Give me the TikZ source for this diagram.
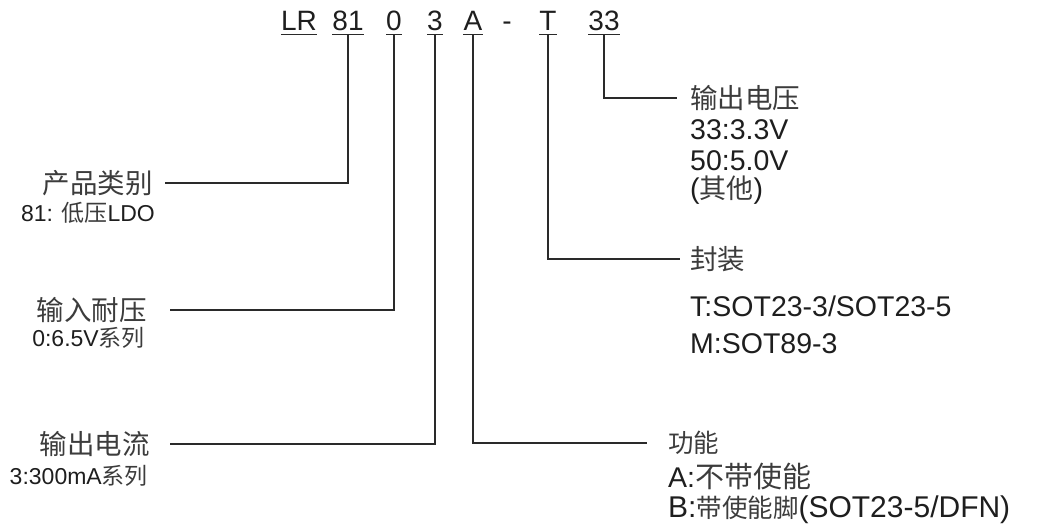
\documentclass[tikz,border=0pt]{standalone}
\usepackage{fontspec}
\setmainfont{Liberation Sans}
\newfontfamily\cjk{Noto Sans CJK SC}
\definecolor{ink}{HTML}{1E1E1E}
\definecolor{zhink}{HTML}{3C3C3C}
\definecolor{wirec}{HTML}{2A2A2A}
\newcommand\zh[1]{{\cjk\color{zhink}#1}}
\newcommand\zhs[2]{{\cjk\color{zhink}\fontsize{#1}{#1}\selectfont #2}}
\begin{document}
\begin{tikzpicture}[x=1pt,y=-1pt,
  seg/.style={inner sep=0pt,anchor=base,text=ink,font=\fontsize{28}{30}\selectfont},
  mainlab/.style={inner sep=0pt,text=ink,font=\fontsize{27.5}{30}\selectfont},
  sublab/.style={inner sep=0pt,anchor=base east,text=ink,font=\fontsize{23}{26}\selectfont},
  rlab/.style={inner sep=0pt,anchor=base west,text=ink,font=\fontsize{28.5}{30}\selectfont},
  uline/.style={draw=wirec,line width=1.4pt},
  wire/.style={draw=wirec,line width=1.3pt}]
\useasboundingbox (0,0) rectangle (1038,527);

% title segments
\node[seg] (tLR) at (299,31) {LR};
\node[seg] (t81) at (348,31) {81};
\node[seg] (t0)  at (394,31) {0};
\node[seg] (t3)  at (435,31) {3};
\node[seg] (tA)  at (473,31) {A};
\node[seg] (tD)  at (507,31) {-};
\node[seg] (tT)  at (548,31) {T};
\node[seg] (t33) at (604,31) {33};
\foreach \n in {tLR,t81,t0,t3,tA,tT,t33}
  \draw[uline] ([yshift=-3.5pt]\n.base west) -- ([yshift=-3.5pt]\n.base east);

% left labels
\node[mainlab,anchor=east] (cat) at (153,183) {\zh{产品类别}};
\node[sublab] (catv) at (155,221) {81: \zh{低压}LDO};
\node[mainlab,anchor=east] (vin) at (147,310) {\zh{输入耐压}};
\node[sublab] (vinv) at (145,346) {0:6.5V\zh{系列}};
\node[mainlab,anchor=east] (iout) at (150,444) {\zh{输出电流}};
\node[sublab] (ioutv) at (148,484) {3:300mA\zh{系列}};

% right labels
\node[mainlab,anchor=west] (vout) at (690,98) {\zh{输出电压}};
\node[rlab] (vout1) at (690,139) {33:3.3V};
\node[rlab] (vout2) at (690,170) {50:5.0V};
\node[rlab] (vout3) at (690,198) {(\zhs{27}{其他})};

\node[mainlab,anchor=west] (pkg) at (690,259) {\zh{封装}};
\node[rlab] (pkg1) at (690,316) {T:SOT23-3/SOT23-5};
\node[rlab] (pkg2) at (690,353) {M:SOT89-3};

\node[mainlab,anchor=west] (func) at (668,443) {\zhs{25.5}{功能}};
\node[rlab] (func1) at (668,487) {A:\zhs{29}{不带使能}};
\node[rlab,font=\fontsize{30}{30}\selectfont] (func2) at (668,517) {B:\zhs{25.5}{带使能脚}(SOT23-5/DFN)};

% connectors
\draw[wire] ([yshift=-3.5pt]t81.base) |- ([xshift=12pt]cat.east);
\draw[wire] ([yshift=-3.5pt]t0.base)  |- ([xshift=23pt]vin.east);
\draw[wire] ([yshift=-3.5pt]t3.base)  |- ([xshift=20pt]iout.east);
\draw[wire] ([yshift=-3.5pt]tA.base)  |- ([xshift=-21pt]func.west);
\draw[wire] ([yshift=-3.5pt]tT.base)  |- ([xshift=-10pt]pkg.west);
\draw[wire] ([yshift=-3.5pt]t33.base) |- ([xshift=-13pt]vout.west);
\end{tikzpicture}
\end{document}
